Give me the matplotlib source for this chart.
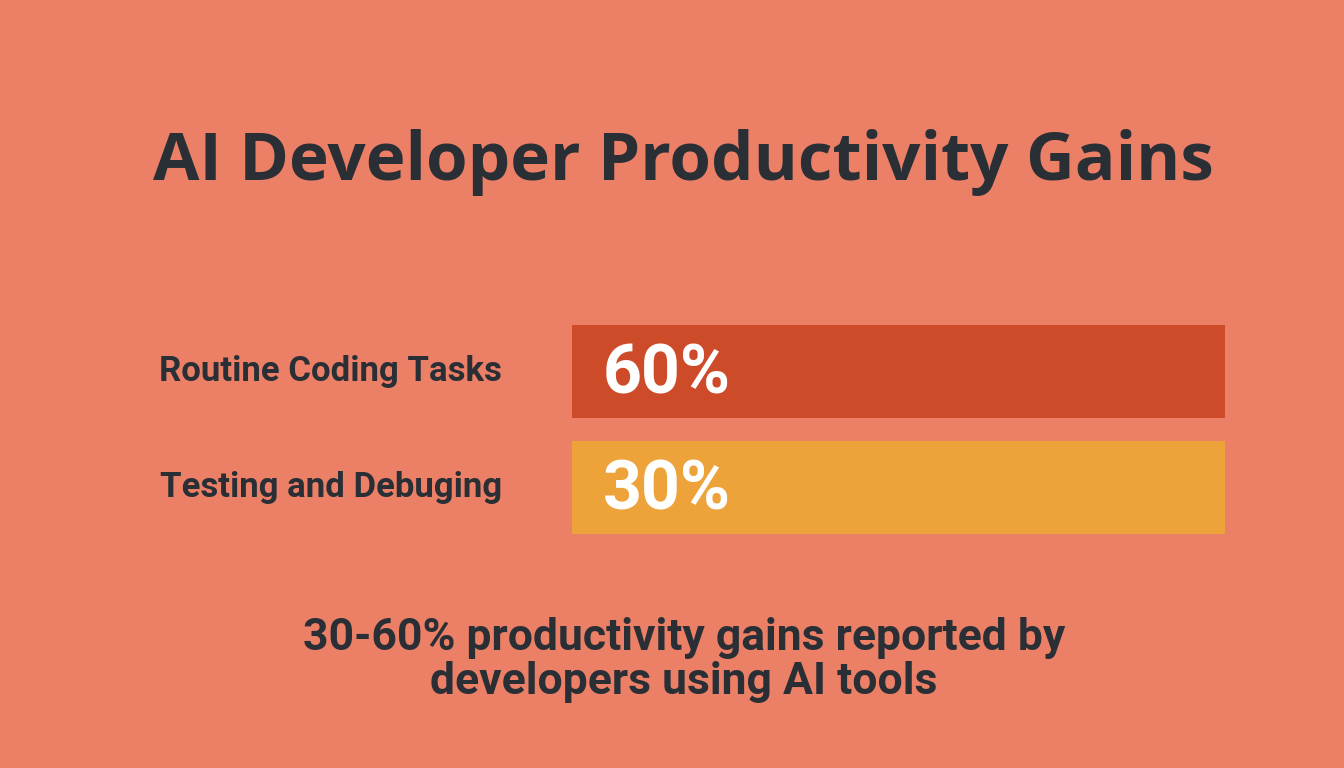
import matplotlib
matplotlib.use("Agg")
import matplotlib.pyplot as plt

categories = ["Routine Coding Tasks", "Testing and Debuging"]
values = [60, 30]
value_labels = ["60%", "30%"]
bar_lengths = [100, 100]  # both bars drawn full length in the reference
bar_colors = ["#CD4B28", "#EDA33A"]

title = "AI Developer Productivity Gains"
subtitle = "30-60% productivity gains reported by\ndevelopers using AI tools"

bg = "#EC8067"
dark = "#2A2F36"

fig = plt.figure(figsize=(13.44, 7.68), dpi=100)
fig.patch.set_facecolor(bg)

ax = fig.add_axes([572/1344, 1-534/768, (1225-572)/1344, 209/768])
ax.set_facecolor("none")
ys = list(range(len(categories)))
h = 93/116
ax.barh(ys, bar_lengths, height=h, color=bar_colors, left=0)
ax.set_xlim(0, 100)
ax.set_ylim(1 + h/2, -h/2)
ax.axis("off")

for y, cat, lab in zip(ys, categories, value_labels):
    ax.text(4.7, y + 0.03, lab, color="white", fontsize=49, fontweight="bold",
            family="Roboto", va="center", ha="left")
    ax.annotate(cat, xy=(0, y), xycoords="data", xytext=(-70, 0),
                textcoords="offset pixels", ha="right", va="center",
                fontsize=25, fontweight="bold", color=dark, family="Roboto")

fig.text(683/1344, 1-163/768, title, ha="center", va="center", fontsize=48.5,
         fontweight="bold", color=dark, family="Open Sans")
fig.text(684/1344, 1-660/768, subtitle, ha="center", va="center", fontsize=32,
         fontweight="bold", color=dark, family="Roboto", linespacing=1.05)

fig.savefig("out.png", dpi=100, facecolor=bg)
